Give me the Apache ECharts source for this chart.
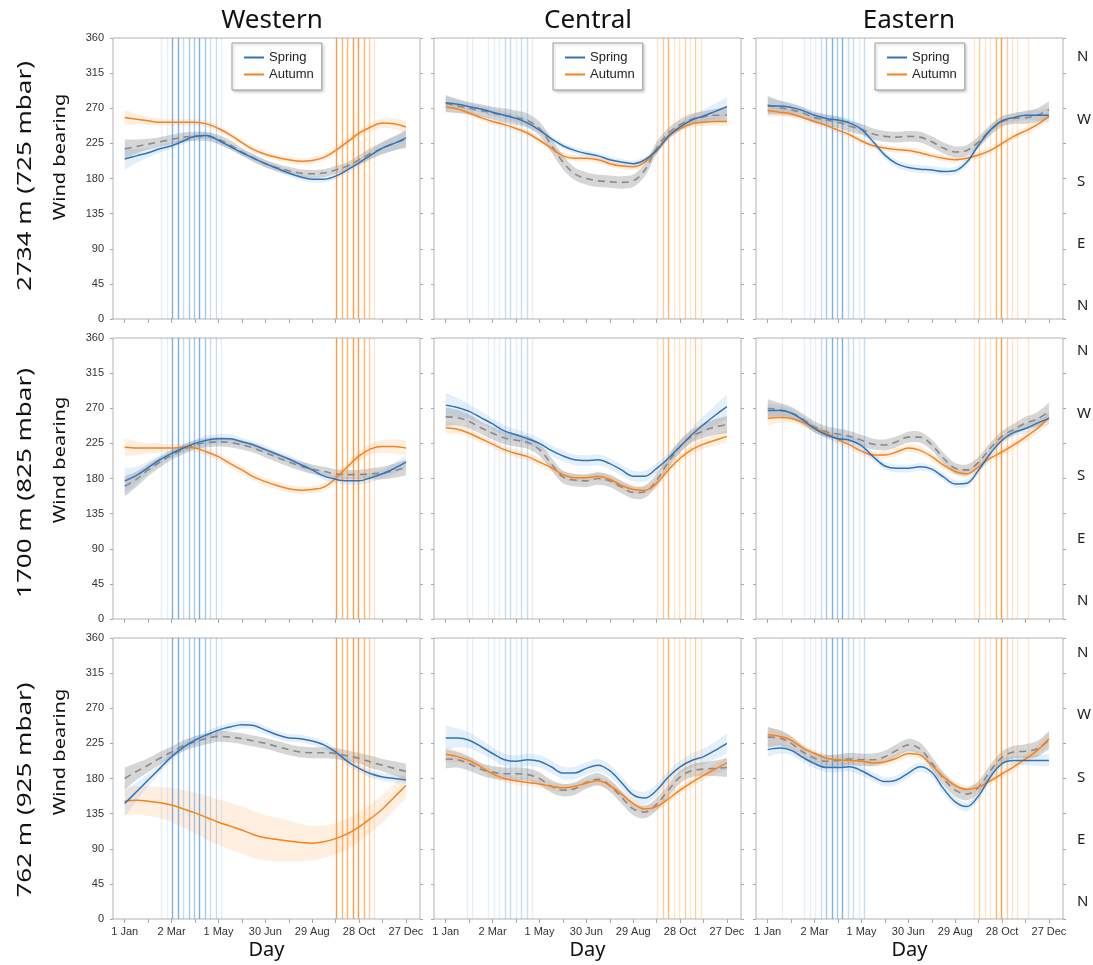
<!DOCTYPE html>
<html>
<head>
<meta charset="utf-8">
<script src="https://cdn.jsdelivr.net/npm/echarts@6/dist/echarts.min.js"></script>
<style>
  html, body { margin: 0; padding: 0; background: #ffffff; }
  #chart { width: 1093px; height: 965px; }
</style>
</head>
<body>
<div id="chart"></div>
<script>
// Sample days (day of year) for every smoothed curve
const days = [1, 16, 31, 46, 61, 76, 91, 106, 121, 136, 151, 166, 181, 196, 211, 226, 241, 256, 271, 286, 301, 316, 331, 346, 361];

// Axis ticks and labels
const tickDays = [1, 31, 61, 91, 121, 151, 181, 211, 241, 271, 301, 331, 361];
const labelDays = [1, 61, 121, 181, 241, 301, 361];
const labelNames = ['1 Jan', '2 Mar', '1 May', '30 Jun', '29 Aug', '28 Oct', '27 Dec'];
const regions = ['Western', 'Central', 'Eastern'];
const levels = ['2734 m (725 mbar)', '1700 m (825 mbar)', '762 m (925 mbar)'];
const compassNames = ['N', 'E', 'S', 'W', 'N'];

// Wind bearing (degrees) — 2734 m
const springW1 = [205, 209, 213, 218, 222, 228, 234, 235, 229, 221, 213, 206, 199, 193, 187, 182, 179, 179, 183, 191, 200, 210, 219, 225, 232];
const springW1Ci = [14, 9, 6, 5, 4, 4, 4, 4, 4, 4, 4, 4, 4, 4, 4, 4, 4, 4, 4, 4, 5, 6, 7, 9, 11];
const autumnW1 = [258, 256, 254, 252, 252, 252, 252, 250, 244, 236, 226, 217, 211, 207, 204, 202, 203, 207, 216, 227, 238, 246, 251, 250, 246];
const autumnW1Ci = [10, 7, 5, 4, 4, 4, 4, 4, 4, 4, 4, 4, 4, 4, 4, 4, 4, 4, 4, 4, 4, 5, 6, 7, 8];
const pooledW1 = [218, 221, 224, 227, 230, 233, 234, 234, 230, 223, 214, 206, 199, 194, 190, 187, 186, 187, 191, 196, 204, 212, 219, 225, 230];
const pooledW1Ci = [12, 9, 7, 6, 6, 6, 6, 6, 6, 6, 5, 5, 5, 5, 5, 5, 5, 5, 5, 5, 6, 7, 8, 9, 11];

const springC1 = [277, 275, 272, 269, 265, 261, 257, 251, 242, 231, 222, 216, 212, 209, 204, 201, 199, 204, 216, 234, 246, 255, 260, 266, 272];
const springC1Ci = [8, 6, 5, 5, 5, 5, 5, 5, 4, 4, 4, 4, 4, 4, 4, 4, 4, 4, 4, 5, 5, 6, 8, 10, 12];
const autumnC1 = [272, 269, 264, 258, 253, 249, 244, 238, 229, 219, 209, 206, 206, 204, 199, 196, 195, 201, 216, 234, 244, 250, 252, 253, 253];
const autumnC1Ci = [7, 5, 4, 4, 4, 4, 4, 4, 4, 4, 4, 4, 4, 4, 4, 4, 4, 4, 4, 4, 4, 4, 5, 5, 6];
const pooledC1 = [276, 273, 270, 267, 264, 261, 258, 254, 244, 223, 201, 186, 180, 177, 176, 175, 177, 191, 219, 238, 249, 256, 259, 261, 261];
const pooledC1Ci = [11, 9, 8, 8, 8, 9, 9, 9, 9, 9, 9, 8, 8, 8, 8, 8, 8, 8, 8, 7, 7, 7, 7, 8, 9];

const springE1 = [273, 273, 271, 267, 261, 257, 255, 251, 243, 227, 210, 199, 194, 192, 191, 189, 190, 201, 223, 242, 254, 258, 261, 261, 261];
const springE1Ci = [10, 7, 6, 5, 5, 5, 5, 5, 5, 5, 5, 5, 5, 5, 5, 5, 5, 5, 5, 5, 5, 5, 6, 7, 9];
const autumnE1 = [267, 265, 263, 258, 253, 248, 242, 236, 228, 222, 219, 217, 216, 213, 209, 206, 204, 206, 210, 216, 225, 234, 241, 249, 260];
const autumnE1Ci = [8, 6, 5, 4, 4, 4, 4, 4, 4, 4, 4, 4, 4, 4, 4, 4, 4, 4, 4, 4, 4, 4, 5, 5, 6];
const pooledE1 = [274, 271, 268, 264, 258, 255, 252, 247, 243, 237, 234, 233, 234, 233, 227, 219, 214, 216, 227, 242, 253, 257, 258, 261, 268];
const pooledE1Ci = [12, 9, 8, 7, 7, 7, 7, 7, 7, 7, 7, 7, 7, 7, 7, 7, 7, 7, 7, 7, 7, 7, 8, 9, 11];

// Wind bearing (degrees) — 1700 m
const springW2 = [177, 184, 194, 204, 212, 219, 225, 229, 231, 231, 227, 223, 217, 211, 205, 198, 191, 183, 179, 177, 177, 181, 186, 193, 201];
const springW2Ci = [16, 11, 8, 6, 5, 5, 5, 6, 6, 6, 5, 5, 5, 5, 5, 5, 5, 5, 5, 5, 5, 6, 6, 7, 8];
const autumnW2 = [220, 219, 219, 219, 219, 220, 219, 214, 208, 199, 191, 182, 176, 171, 167, 165, 166, 169, 180, 195, 209, 218, 221, 221, 219];
const autumnW2Ci = [12, 9, 7, 6, 5, 5, 5, 5, 5, 5, 5, 5, 5, 5, 5, 5, 5, 5, 5, 5, 6, 7, 8, 9, 10];
const pooledW2 = [170, 179, 191, 201, 210, 217, 223, 226, 227, 226, 223, 219, 213, 207, 201, 196, 192, 189, 186, 185, 185, 186, 187, 190, 194];
const pooledW2Ci = [13, 10, 8, 7, 6, 6, 6, 6, 6, 6, 6, 6, 6, 6, 6, 6, 6, 6, 6, 6, 6, 7, 8, 9, 10];

const springC2 = [274, 271, 266, 258, 250, 241, 236, 231, 225, 216, 209, 204, 203, 204, 199, 191, 183, 183, 193, 206, 221, 236, 249, 261, 272];
const springC2Ci = [16, 12, 9, 8, 7, 7, 7, 7, 7, 7, 7, 7, 7, 7, 7, 7, 7, 7, 7, 7, 8, 9, 11, 13, 16];
const autumnC2 = [245, 243, 238, 231, 224, 217, 212, 208, 201, 194, 185, 181, 181, 183, 179, 171, 166, 165, 174, 191, 206, 217, 224, 229, 234];
const autumnC2Ci = [8, 6, 5, 5, 5, 5, 5, 5, 5, 5, 5, 5, 5, 5, 5, 5, 5, 5, 5, 5, 5, 6, 6, 7, 8];
const pooledC2 = [259, 258, 253, 245, 238, 232, 229, 226, 217, 199, 182, 178, 177, 180, 177, 169, 162, 163, 178, 201, 221, 234, 241, 246, 249];
const pooledC2Ci = [12, 10, 9, 8, 8, 8, 8, 8, 8, 8, 8, 8, 8, 8, 8, 8, 8, 8, 8, 8, 8, 8, 9, 10, 11];

const springE2 = [267, 267, 264, 255, 244, 236, 231, 229, 222, 208, 196, 193, 193, 195, 192, 182, 173, 174, 191, 212, 229, 239, 244, 251, 257];
const springE2Ci = [9, 7, 6, 5, 5, 5, 5, 5, 5, 5, 5, 5, 5, 5, 5, 5, 5, 5, 5, 5, 5, 5, 6, 7, 8];
const autumnE2 = [257, 258, 257, 252, 244, 238, 230, 223, 215, 210, 210, 214, 219, 216, 208, 197, 189, 186, 195, 206, 214, 223, 233, 244, 258];
const autumnE2Ci = [9, 7, 6, 5, 5, 5, 5, 5, 5, 5, 5, 5, 5, 5, 5, 5, 5, 5, 5, 5, 5, 5, 6, 7, 8];
const pooledE2 = [270, 268, 264, 256, 246, 240, 237, 234, 229, 224, 223, 227, 233, 233, 223, 206, 193, 191, 201, 219, 234, 243, 251, 256, 266];
const pooledE2Ci = [12, 9, 8, 7, 7, 7, 7, 7, 7, 7, 7, 7, 7, 7, 7, 7, 7, 7, 7, 7, 7, 7, 8, 9, 11];

// Wind bearing (degrees) — 762 m
const springW3 = [148, 163, 178, 193, 208, 220, 229, 236, 242, 246, 249, 248, 242, 236, 232, 231, 228, 223, 214, 202, 193, 186, 182, 180, 178];
const springW3Ci = [17, 12, 8, 6, 5, 5, 5, 5, 5, 5, 5, 5, 5, 5, 5, 5, 5, 5, 5, 5, 5, 5, 5, 5, 5];
const autumnW3 = [151, 152, 151, 149, 146, 141, 136, 130, 124, 119, 114, 108, 104, 102, 100, 98, 97, 99, 103, 109, 118, 129, 141, 156, 171];
const autumnW3Ci = [18, 18, 19, 20, 22, 24, 26, 28, 29, 30, 30, 30, 29, 28, 26, 24, 22, 21, 20, 20, 19, 18, 18, 17, 17];
const pooledW3 = [180, 189, 197, 206, 214, 222, 227, 231, 234, 233, 231, 228, 225, 221, 217, 214, 213, 213, 212, 209, 206, 201, 197, 193, 189];
const pooledW3Ci = [14, 11, 9, 8, 7, 7, 7, 7, 7, 7, 7, 7, 7, 7, 7, 7, 7, 7, 7, 7, 7, 8, 8, 9, 10];

const springC3 = [232, 232, 229, 221, 212, 204, 202, 204, 202, 195, 187, 187, 193, 197, 190, 175, 159, 155, 165, 182, 195, 203, 208, 216, 225];
const springC3Ci = [16, 12, 10, 9, 8, 8, 8, 8, 8, 8, 8, 8, 8, 8, 8, 8, 8, 8, 8, 8, 8, 9, 10, 11, 13];
const autumnC3 = [211, 208, 203, 195, 186, 180, 177, 175, 173, 170, 168, 170, 174, 177, 171, 160, 148, 141, 144, 154, 165, 175, 184, 192, 200];
const autumnC3Ci = [10, 7, 6, 5, 5, 5, 5, 5, 5, 5, 5, 5, 5, 5, 5, 5, 5, 5, 5, 5, 5, 5, 6, 7, 8];
const pooledC3 = [205, 204, 199, 192, 188, 186, 186, 185, 180, 170, 165, 167, 175, 179, 171, 156, 141, 137, 147, 165, 182, 190, 192, 193, 194];
const pooledC3Ci = [12, 10, 9, 8, 8, 8, 8, 8, 8, 8, 8, 8, 8, 8, 8, 8, 8, 8, 8, 8, 8, 8, 9, 10, 12];

const springE3 = [217, 219, 216, 207, 199, 194, 194, 195, 190, 182, 176, 178, 187, 195, 188, 167, 150, 144, 158, 182, 199, 203, 203, 203, 203];
const springE3Ci = [9, 7, 6, 6, 6, 6, 6, 6, 6, 6, 6, 6, 6, 6, 6, 6, 6, 6, 6, 6, 6, 6, 6, 7, 8];
const autumnE3 = [236, 234, 229, 219, 212, 206, 204, 203, 202, 200, 201, 206, 212, 210, 197, 182, 171, 166, 169, 177, 186, 195, 205, 216, 231];
const autumnE3Ci = [10, 8, 6, 5, 5, 5, 5, 5, 5, 5, 5, 5, 5, 5, 5, 5, 5, 5, 5, 5, 5, 5, 6, 7, 9];
const pooledE3 = [233, 232, 225, 214, 206, 202, 203, 205, 204, 204, 208, 216, 223, 218, 200, 180, 165, 160, 169, 190, 207, 214, 215, 218, 229];
const pooledE3Ci = [13, 10, 9, 8, 8, 8, 8, 8, 8, 8, 8, 8, 8, 8, 8, 8, 8, 8, 8, 8, 8, 8, 9, 10, 12];

// Migration weeks (day of year) and their weight (1 = few, 4 = many) per region
const springWeeksW = [48, 55, 62, 69, 76, 83, 90, 97, 104, 111, 118, 125];
const springWeightW = [1, 1, 4, 4, 2, 3, 3, 4, 3, 2, 2, 1];
const autumnWeeksW = [272, 279, 286, 293, 300, 307, 314, 321];
const autumnWeightW = [4, 3, 3, 4, 4, 3, 2, 1];

const springWeeksC = [28, 35, 56, 63, 70, 77, 84, 91, 98, 105, 112];
const springWeightC = [1, 1, 1, 1, 1, 2, 2, 1, 2, 2, 1];
const autumnWeeksC = [272, 279, 286, 293, 300, 307, 314, 321, 328];
const autumnWeightC = [1, 2, 3, 1, 1, 2, 1, 2, 1];

const springWeeksE = [20, 48, 55, 62, 69, 76, 83, 90, 97, 104, 111, 118, 125];
const springWeightE = [1, 1, 1, 1, 2, 3, 4, 3, 4, 2, 2, 1, 2];
const autumnWeeksE = [265, 272, 279, 286, 293, 300, 307, 314, 321, 335];
const autumnWeightE = [1, 2, 1, 1, 3, 4, 2, 1, 1, 1];

// ---- layout & styling ----
const colLeft = [113, 434, 756];
const rowTop = [38, 338, 638];
const gridW = 307, gridH = 281;
const xMin = -14, xMax = 379;
// compass label scale per row (label index 0..4 from bottom N to top N)
const compassRange = [[-0.209, 4.305], [-0.288, 4.208], [-0.272, 4.232]];

const SPRING = '#2f74b8';
const AUTUMN = '#f7821b';
const POOLED = '#8a8a8a';
const SPRING_BAND = 'rgba(74,150,220,0.15)';
const AUTUMN_BAND = 'rgba(255,160,80,0.17)';
const POOLED_BAND = 'rgba(135,135,135,0.34)';
const SPRING_WEEK = '#3a86cc';
const AUTUMN_WEEK = '#ff8a1c';
const springAlpha = [0, 0.13, 0.28, 0.45, 0.65];
const autumnAlpha = [0, 0.22, 0.42, 0.62, 0.85];

const panels = [
  [springW1, springW1Ci, autumnW1, autumnW1Ci, pooledW1, pooledW1Ci],
  [springC1, springC1Ci, autumnC1, autumnC1Ci, pooledC1, pooledC1Ci],
  [springE1, springE1Ci, autumnE1, autumnE1Ci, pooledE1, pooledE1Ci],
  [springW2, springW2Ci, autumnW2, autumnW2Ci, pooledW2, pooledW2Ci],
  [springC2, springC2Ci, autumnC2, autumnC2Ci, pooledC2, pooledC2Ci],
  [springE2, springE2Ci, autumnE2, autumnE2Ci, pooledE2, pooledE2Ci],
  [springW3, springW3Ci, autumnW3, autumnW3Ci, pooledW3, pooledW3Ci],
  [springC3, springC3Ci, autumnC3, autumnC3Ci, pooledC3, pooledC3Ci],
  [springE3, springE3Ci, autumnE3, autumnE3Ci, pooledE3, pooledE3Ci]
];
const weeks = [
  [springWeeksW, springWeightW, autumnWeeksW, autumnWeightW],
  [springWeeksC, springWeightC, autumnWeeksC, autumnWeightC],
  [springWeeksE, springWeightE, autumnWeeksE, autumnWeightE]
];

const grids = [], xAxes = [], yAxes = [], series = [], legends = [], graphics = [];
const extraY = [];

// Confidence band: one smoothed polygon through the upper edge and back along the lower edge
function band(name, gi, vals, ci, color) {
  const rows = days.map((d, i) => [d, vals[i] - ci[i], vals[i] + ci[i]]);
  return {
    type: 'custom', name: name, xAxisIndex: gi, yAxisIndex: gi,
    data: rows, encode: { x: 0, y: [1, 2] }, silent: true, z: 2, clip: true,
    renderItem: (params, api) => {
      if (params.dataIndex !== 0) return null;
      const upper = rows.map(r => api.coord([r[0], r[2]]));
      const lower = rows.map(r => api.coord([r[0], r[1]])).reverse();
      const first = upper[0], last = upper[upper.length - 1];
      const pts = [first].concat(upper, [last], [lower[0]], lower, [lower[lower.length - 1]]);
      return {
        type: 'polygon',
        shape: { points: pts, smooth: 0.3 },
        style: { fill: color, stroke: null }
      };
    }
  };
}

function curve(name, gi, vals, color, dashed, markLine) {
  const s = {
    type: 'line', name: name, xAxisIndex: gi, yAxisIndex: gi,
    data: days.map((d, i) => [d, vals[i]]),
    smooth: 0.35, symbol: 'none', silent: true, z: 4,
    lineStyle: { color: color, width: dashed ? 1.6 : 1.5, type: dashed ? [7, 5] : 'solid' },
    itemStyle: { color: color }
  };
  if (markLine) s.markLine = markLine;
  return s;
}

panels.forEach((p, gi) => {
  const col = gi % 3, row = Math.floor(gi / 3);
  const [sp, spCi, au, auCi, po, poCi] = p;

  grids.push({
    left: colLeft[col], top: rowTop[row], width: gridW, height: gridH,
    show: true, borderColor: '#b3b3b3', borderWidth: 1, backgroundColor: 'transparent',
    containLabel: false, outerBoundsMode: 'none'
  });

  xAxes.push({
    type: 'value', gridIndex: gi, min: xMin, max: xMax,
    axisLine: { show: false, onZero: false },
    splitLine: { show: false },
    axisTick: { show: true, customValues: tickDays, length: 4, lineStyle: { color: '#a8a8a8' } },
    axisLabel: {
      show: row === 2, customValues: labelDays, margin: 7,
      fontFamily: 'Liberation Sans', fontSize: 11, color: '#333',
      formatter: v => labelNames[labelDays.indexOf(v)]
    },
    name: row === 2 ? 'Day' : '', nameLocation: 'middle', nameGap: 21,
    nameTextStyle: { fontFamily: 'Noto Sans', fontSize: 20, color: '#111' }
  });

  yAxes.push({
    type: 'value', gridIndex: gi, position: 'left', min: 0, max: 360, interval: 45,
    axisLine: { show: false, onZero: false },
    splitLine: { show: false },
    axisTick: { show: true, length: 3, lineStyle: { color: '#a8a8a8' } },
    axisLabel: {
      show: col === 0, margin: 9,
      fontFamily: 'Liberation Sans', fontSize: 11, color: '#333'
    }
  });
  extraY.push({
    type: 'value', gridIndex: gi, position: 'right', min: 0, max: 360, interval: 45,
    axisLine: { show: false, onZero: false }, splitLine: { show: false },
    axisTick: { show: true, length: 3, lineStyle: { color: '#a8a8a8' } },
    axisLabel: { show: false }
  });
  if (col === 2) {
    extraY.push({
      type: 'value', gridIndex: gi, position: 'right',
      min: compassRange[row][0], max: compassRange[row][1],
      axisLine: { show: false, onZero: false }, splitLine: { show: false }, axisTick: { show: false },
      axisLabel: {
        show: true, customValues: [0, 1, 2, 3, 4], margin: 14,
        fontFamily: 'Noto Sans', fontSize: 15, color: '#222', align: 'left',
        formatter: v => compassNames[Math.round(v)]
      }
    });
  }

  // migration weeks as full-height vertical lines
  const [sDays, sW, aDays, aW] = weeks[col];
  const mlData = [];
  sDays.forEach((d, i) => mlData.push({
    xAxis: d, lineStyle: { color: SPRING_WEEK, opacity: springAlpha[sW[i]], width: 1.4, type: 'solid' }
  }));
  aDays.forEach((d, i) => mlData.push({
    xAxis: d, lineStyle: { color: AUTUMN_WEEK, opacity: autumnAlpha[aW[i]], width: 1.4, type: 'solid' }
  }));
  const markLine = {
    silent: true, symbol: ['none', 'none'], label: { show: false },
    animation: false, z: 3, data: mlData
  };

  series.push(band('Spring band', gi, sp, spCi, SPRING_BAND));
  series.push(band('Autumn band', gi, au, auCi, AUTUMN_BAND));
  series.push(band('Pooled band', gi, po, poCi, POOLED_BAND));
  series.push(curve('Pooled', gi, po, POOLED, true, markLine));
  series.push(curve('Autumn', gi, au, AUTUMN, false));
  series.push(curve('Spring', gi, sp, SPRING, false));

  if (row === 0) {
    legends.push({
      data: ['Spring', 'Autumn'], orient: 'vertical',
      left: colLeft[col] + 119, top: 43,
      padding: [8, 8, 9, 12], itemGap: 4, itemWidth: 20, itemHeight: 2, itemTextGap: 6,
      icon: 'rect',
      backgroundColor: '#ffffff', borderColor: '#9a9a9a', borderWidth: 1,
      shadowColor: 'rgba(0,0,0,0.22)', shadowBlur: 3, shadowOffsetX: 1.5, shadowOffsetY: 1.5,
      textStyle: { fontFamily: 'Liberation Sans', fontSize: 13, color: '#222' },
      selectedMode: false
    });
  }
});

// column titles
const titleX = [272, 588, 909];
regions.forEach((r, c) => {
  graphics.push({
    type: 'text', x: titleX[c], y: 21, silent: true,
    style: { text: r, fill: '#111', font: '26px "Noto Sans"', textAlign: 'center', textVerticalAlign: 'middle' }
  });
});
// row labels and y-axis titles
const rowLabelY = [176, 483, 790];
const bearingLabelY = [157, 460, 752];
levels.forEach((t, r) => {
  graphics.push({
    type: 'text', x: 25, y: rowLabelY[r], rotation: Math.PI / 2, scaleX: 1.3, silent: true,
    style: { text: t, fill: '#111', font: '20px "Noto Sans"', textAlign: 'center', textVerticalAlign: 'middle' }
  });
  graphics.push({
    type: 'text', x: 60, y: bearingLabelY[r], rotation: Math.PI / 2, scaleX: 1.25, silent: true,
    style: { text: 'Wind bearing', fill: '#111', font: '16px "Noto Sans"', textAlign: 'center', textVerticalAlign: 'middle' }
  });
});

const chart = echarts.init(document.getElementById('chart'), null, { renderer: 'canvas' });
chart.setOption({
  animation: false,
  backgroundColor: '#ffffff',
  grid: grids,
  xAxis: xAxes,
  yAxis: yAxes.concat(extraY),
  legend: legends,
  graphic: graphics,
  series: series
});
</script>
</body>
</html>
